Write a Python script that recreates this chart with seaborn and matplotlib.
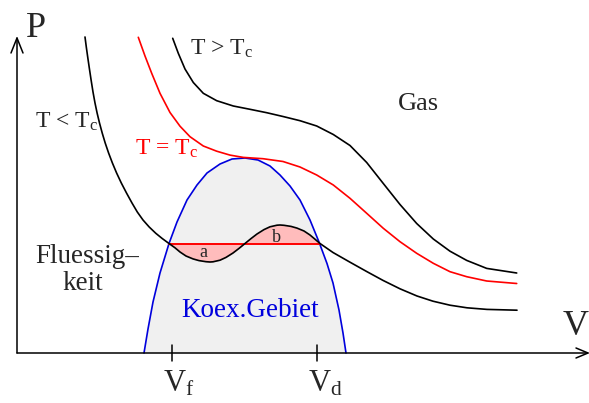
import numpy as np
import matplotlib
matplotlib.use("Agg")
import matplotlib.pyplot as plt
import seaborn as sns

sns.set_style("white")
plt.rcParams["font.family"] = ["Liberation Serif", "DejaVu Serif"]
plt.rcParams["mathtext.fontset"] = "custom"
plt.rcParams["mathtext.rm"] = "Liberation Serif"
plt.rcParams["mathtext.it"] = "Liberation Serif:italic"

# Isotherms of a van der Waals gas (volume V, pressure P; arbitrary units)
v_sub = [68, 69.3, 70.7, 72.3, 74.1, 76.0, 78.0, 80.1, 82.5, 85.2, 88.2, 91.6, 95.4,
         99.6, 104.3, 109.5, 115.0, 120.3, 126.0, 132.2, 138.8, 145.2, 152, 158, 163,
         169, 176, 182, 189, 193, 196, 203, 209, 216, 222, 228, 234, 240, 247, 253,
         260, 263, 267, 274, 280, 287, 293, 298, 303, 316, 333, 350, 366, 383, 400,
         416, 433, 450, 470, 500]
p_sub = [316, 306, 296, 285, 273, 261, 250, 240, 230, 220, 210, 200, 190, 180, 170,
         160, 150, 141, 133, 126, 119.7, 114.5, 109.5, 105.2, 101.0, 97.0, 94.1, 92.4,
         91.3, 91.0, 91.2, 92.8, 95.6, 100.0, 104.6, 109.5, 114.4, 119.0, 123.4,
         126.2, 127.8, 128.0, 127.7, 126.6, 124.9, 122.0, 118.0, 113.8, 109.5, 100.5,
         90.8, 81.3, 72.6, 64.2, 57.0, 51.8, 47.8, 45.2, 43.6, 42.8]

v_crit = [121.3, 128, 134.7, 143, 153, 163, 173, 186.3, 199.7, 213, 226.3, 246, 266,
          283, 299.7, 316.3, 333, 349.7, 366.3, 383, 399.7, 416.3, 433, 449.7, 469.7,
          499.7]
p_crit = [315.7, 297.0, 279.7, 259.7, 240.5, 226.8, 216.3, 207.0, 201.8, 197.9, 195.6,
          194.3, 191.5, 186, 178, 168, 154.7, 139.7, 124.7, 111.3, 99.7, 89.7, 81.3,
          76.3, 72, 69.5]

v_super = [155.7, 161.3, 168, 176.3, 186.3, 199.7, 216.3, 233, 249.7, 266, 283, 299.7,
           316.3, 333, 349.7, 366.3, 383, 399.7, 416.3, 433, 449.7, 469.7, 499.7]
p_super = [314.7, 299.7, 284, 270.5, 259.7, 252.3, 247, 243.7, 240.3, 236.5, 232.3,
           227, 218.5, 207.5, 190.5, 169.5, 148.5, 129.5, 114, 101.8, 92.6, 84.6, 80.0]

# Coexistence (binodal) curve
v_dome = [127, 131, 136, 143, 152, 160, 170, 180, 190, 203, 215, 228, 241, 253, 263,
          273, 283, 293, 302, 310, 316, 322, 326, 329]
p_dome = [0, 24, 51, 80, 109.5, 131, 153, 168, 180, 189, 194, 195, 193, 187, 178, 167,
          153, 133, 111, 89.5, 70, 43, 20, 0]

# Maxwell construction: equal-area line between the liquid and vapour volumes
p_maxwell = 109.5
v_liquid, v_vapour = 152, 303

fig = plt.figure(figsize=(5.89, 4.03), dpi=100)
ax = fig.add_axes([0, 0, 1, 1])
ax.set_xlim(-17, 572)
ax.set_ylim(-50, 353)
ax.axis("off")

# shaded coexistence region
ax.fill(v_dome, p_dome, color="#f0f0f0", zorder=1, lw=0)

# equal areas a and b
vs = np.array(v_sub, dtype=float)
ps = np.array(p_sub, dtype=float)
m = (vs >= v_liquid) & (vs <= v_vapour)
ax.fill_between(vs[m], ps[m], p_maxwell, color="#ffbcbc", zorder=2, lw=0)

sns.lineplot(x=v_dome, y=p_dome, sort=False, estimator=None, ax=ax,
             color="#0000dd", lw=1.2, zorder=3)
sns.lineplot(x=v_crit, y=p_crit, sort=False, estimator=None, ax=ax,
             color="#ff0000", lw=1.2, zorder=4)
sns.lineplot(x=v_super, y=p_super, sort=False, estimator=None, ax=ax,
             color="black", lw=1.2, zorder=4)
sns.lineplot(x=v_sub, y=p_sub, sort=False, estimator=None, ax=ax,
             color="black", lw=1.2, zorder=5)
ax.plot([v_liquid, v_vapour], [p_maxwell, p_maxwell], color="#ff0000", lw=1.4, zorder=4)

# axes with open arrow heads
ax.plot([0, 571], [0, 0], color="black", lw=1.1, zorder=6)
ax.plot([0, 0], [0, 315], color="black", lw=1.1, zorder=6)
ax.plot([-6, 0, 6], [300, 315, 300], color="black", lw=1.1, zorder=6)
ax.plot([559, 571, 559], [5, 0, -5], color="black", lw=1.1, zorder=6)
for v in (v_liquid + 3, v_vapour - 3):
    ax.plot([v, v], [8, -8], color="black", lw=1.1, zorder=6)

ax.text(9, 316, "P", fontsize=26, ha="left", va="baseline")
ax.text(546, 18, "V", fontsize=26, ha="left", va="baseline")
ax.text(146, -38.5, r"V$_{\mathrm{f}}$", fontsize=22, ha="left", va="baseline")
ax.text(291, -38.5, r"V$_{\mathrm{d}}$", fontsize=22, ha="left", va="baseline")

ax.text(173, 298, r"T > T$_{\mathrm{c}}$", fontsize=17, ha="left", va="baseline")
ax.text(18, 225, r"T < T$_{\mathrm{c}}$", fontsize=17, ha="left", va="baseline")
ax.text(118, 198, r"T = T$_{\mathrm{c}}$", fontsize=17, ha="left", va="baseline",
        color="#ff0000")
ax.text(381, 243, "Gas", fontsize=19, ha="left", va="baseline")
ax.text(70, 89.7, "Fluessig\u2013", fontsize=19.5, ha="center", va="baseline")
ax.text(66, 63, "keit", fontsize=19.5, ha="center", va="baseline")
ax.text(233, 36.3, "Koex.Gebiet", fontsize=19.5, ha="center", va="baseline",
        color="#0000dd")
ax.text(186, 96.3, "a", fontsize=13, ha="center", va="baseline")
ax.text(259.5, 111.3, "b", fontsize=13, ha="center", va="baseline")

fig.savefig("out.png", dpi=100)
